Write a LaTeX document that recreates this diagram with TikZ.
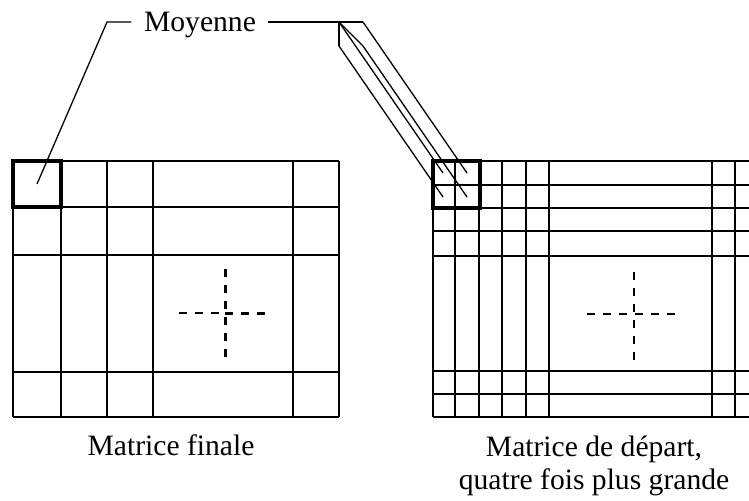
\documentclass[tikz,border=0pt]{standalone}
\usepackage{fontspec}
\setmainfont{Liberation Serif}
\begin{document}
\begin{tikzpicture}[x=0.5pt,y=-0.5pt,line width=0.65pt,
  txt/.style={font=\fontsize{14.8}{16.5}\selectfont,align=center,inner sep=0pt},
  bold cell/.style={line width=2pt},
  thin dash/.style={dash pattern=on 4pt off 4pt},
  thick dash/.style={line width=1.5pt,dash pattern=on 4pt off 4pt}]
\useasboundingbox (0,0) rectangle (749,501);

% \draw final matrix
\foreach \x in {13,61,107,153,293,339}
  \draw (\x,161) -- (\x,417);
\foreach \y in {161,207,255,372,417}
  \draw (13,\y) -- (339,\y);
\draw[bold cell] (13,161) rectangle (61,207);
\coordinate (c0) at (37,184);

% \draw dashed cross, final matrix
\draw[thin dash]  (179,313) -- (225,313);
\draw[thick dash] (225,314) -- (271,314);
\draw[thick dash] (225,269) -- (225,361);

% \draw starting matrix (runs past the right border)
\foreach \x in {433,455,479,502,526,549,712,735,758}
  \draw (\x,161) -- (\x,417);
\foreach \y in {161,185,208,231,256,371,394,417}
  \draw (433,\y) -- (758,\y);
\draw[bold cell] (433,161) rectangle (480,208);
\coordinate (c1) at (443,173);
\coordinate (c2) at (467,173);
\coordinate (c3) at (443,197);
\coordinate (c4) at (467,197);

% \draw dashed cross, starting matrix
\draw[thin dash] (587,314) -- (680,314);
\draw[thin dash] (634,272) -- (634,363);

% \draw label and its leaders
\node[txt,anchor=base] (moyenne) at (200,32) {Moyenne};
\coordinate (l0) at (107,22);
\coordinate (r0) at (339,22);
\coordinate (r1) at (363,22);
\coordinate (r2) at (339,46);
\coordinate (r3) at (363,46);
\draw ([xshift=-6pt]moyenne.west |- l0) -- (l0) -- (c0);
\draw ([xshift=5.5pt]moyenne.east |- r0) -- (r1);
\draw (r0) -- (r2);
\draw (r0) -- (r3);
\draw (r0) -- (c1);
\draw (r1) -- (c2);
\draw (r2) -- (c3);
\draw (r3) -- (c4);

% \draw captions (base is the last line)
\node[txt,anchor=base] (final) at (171,456) {Matrice finale};
\node[txt,anchor=base] (depart) at (594,489) {Matrice de départ,\\quatre fois plus grande};
\end{tikzpicture}
\end{document}
